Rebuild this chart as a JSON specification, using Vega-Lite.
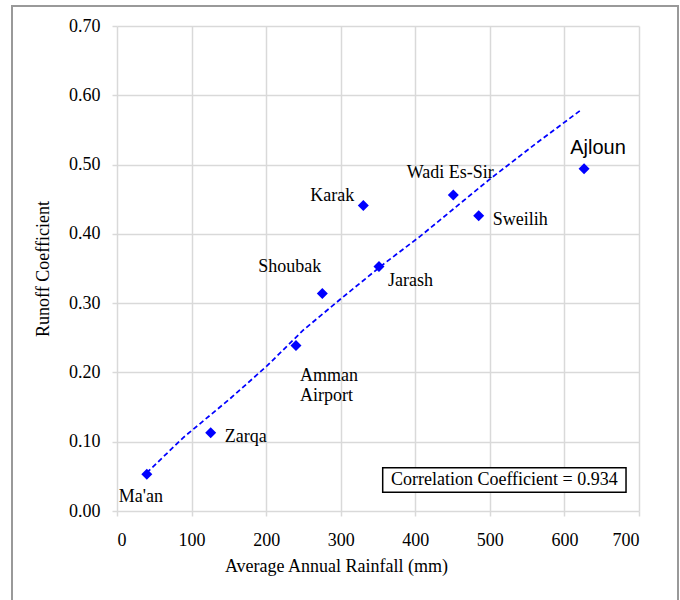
{
  "$schema": "https://vega.github.io/schema/vega-lite/v6.json",
  "width": 522,
  "height": 485,
  "autosize": {"type": "none"},
  "padding": {"left": 117, "top": 26, "right": 41, "bottom": 89},
  "background": "white",
  "config": {
    "view": {"stroke": null},
    "font": "Liberation Serif",
    "axis": {
      "domain": false,
      "gridColor": "#d9d9d9",
      "gridWidth": 1.5,
      "tickColor": "#d9d9d9",
      "tickWidth": 1.5,
      "tickSize": 5,
      "labelFont": "Liberation Serif",
      "labelFontSize": 18,
      "labelColor": "#000000",
      "titleFont": "Liberation Serif",
      "titleFontSize": 18,
      "titleFontWeight": "normal",
      "titleColor": "#000000"
    }
  },
  "datasets": {
    "stations": [
      {"station": "Ma'an", "rainfall": 40, "coef": 0.053},
      {"station": "Zarqa", "rainfall": 125.6, "coef": 0.113},
      {"station": "Amman Airport", "rainfall": 240, "coef": 0.239},
      {"station": "Shoubak", "rainfall": 275.3, "coef": 0.314},
      {"station": "Jarash", "rainfall": 351.3, "coef": 0.353},
      {"station": "Karak", "rainfall": 330.3, "coef": 0.441},
      {"station": "Wadi Es-Sir", "rainfall": 451, "coef": 0.456},
      {"station": "Sweilih", "rainfall": 485, "coef": 0.426},
      {"station": "Ajloun", "rainfall": 626.3, "coef": 0.494}
    ],
    "trend": [
      {"rainfall": 39.8, "coef": 0.055},
      {"rainfall": 88.9, "coef": 0.106},
      {"rainfall": 151.5, "coef": 0.162},
      {"rainfall": 200.7, "coef": 0.209},
      {"rainfall": 249.7, "coef": 0.261},
      {"rainfall": 301, "coef": 0.307},
      {"rainfall": 357, "coef": 0.356},
      {"rainfall": 406, "coef": 0.396},
      {"rainfall": 500, "coef": 0.479},
      {"rainfall": 562.6, "coef": 0.531},
      {"rainfall": 623.7, "coef": 0.580}
    ],
    "frame": [
      {"x1": -140.8, "x2": 752.3, "y1": -0.143, "y2": 0.729}
    ],
    "note": [
      {"x1": 356.3, "x2": 682.6, "y1": 0.027, "y2": 0.0625, "xc": 519.4, "yc": 0.0447, "label": "Correlation Coefficient = 0.934"}
    ]
  },
  "layer": [
    {
      "data": {"name": "frame"},
      "mark": {"type": "rect", "fill": null, "stroke": "#999999", "strokeWidth": 2},
      "encoding": {
        "x": {"field": "x1", "type": "quantitative", "scale": {"domain": [0, 700], "nice": false, "zero": false},
          "axis": {"values": [0, 100, 200, 300, 400, 500, 600, 700], "format": "d", "labelPadding": 15, "title": "Average Annual Rainfall  (mm)", "titlePadding": 8, "titleX": 219}},
        "x2": {"field": "x2"},
        "y": {"field": "y1", "type": "quantitative", "scale": {"domain": [0, 0.7], "nice": false, "zero": false},
          "axis": {"values": [0, 0.1, 0.2, 0.3, 0.4, 0.5, 0.6, 0.7], "format": ".2f", "labelPadding": 12, "title": "Runoff Coefficient", "titlePadding": 16}},
        "y2": {"field": "y2"}
      }
    },
    {
      "data": {"name": "note"},
      "mark": {"type": "rect", "fill": "white", "stroke": "#000000", "strokeWidth": 1.5},
      "encoding": {
        "x": {"field": "x1", "type": "quantitative"},
        "x2": {"field": "x2"},
        "y": {"field": "y1", "type": "quantitative"},
        "y2": {"field": "y2"}
      }
    },
    {
      "data": {"name": "note"},
      "mark": {"type": "text", "fontSize": 18, "font": "Liberation Serif", "color": "#000000", "baseline": "middle", "align": "center"},
      "encoding": {
        "x": {"field": "xc", "type": "quantitative"},
        "y": {"field": "yc", "type": "quantitative"},
        "text": {"field": "label"}
      }
    },
    {
      "data": {"name": "trend"},
      "mark": {"type": "line", "color": "#0000ff", "strokeWidth": 1.75, "strokeDash": [5, 3]},
      "encoding": {
        "x": {"field": "rainfall", "type": "quantitative"},
        "y": {"field": "coef", "type": "quantitative"}
      }
    },
    {
      "data": {"name": "stations"},
      "mark": {"type": "point", "shape": "diamond", "filled": true, "color": "#0000ff", "size": 121, "opacity": 1},
      "encoding": {
        "x": {"field": "rainfall", "type": "quantitative"},
        "y": {"field": "coef", "type": "quantitative"}
      }
    },
    {
      "data": {"name": "stations"},
      "transform": [{"filter": "datum.station === \"Ma'an\""}],
      "mark": {"type": "text", "fontSize": 18, "align": "center", "baseline": "middle", "dx": -6, "dy": 23},
      "encoding": {"x": {"field": "rainfall", "type": "quantitative"}, "y": {"field": "coef", "type": "quantitative"}, "text": {"field": "station"}}
    },
    {
      "data": {"name": "stations"},
      "transform": [{"filter": "datum.station === 'Zarqa' || datum.station === 'Sweilih'"}],
      "mark": {"type": "text", "fontSize": 18, "align": "left", "baseline": "middle", "dx": 14, "dy": 4},
      "encoding": {"x": {"field": "rainfall", "type": "quantitative"}, "y": {"field": "coef", "type": "quantitative"}, "text": {"field": "station"}}
    },
    {
      "data": {"name": "stations"},
      "transform": [{"filter": "datum.station === 'Amman Airport'"}],
      "mark": {"type": "text", "fontSize": 18, "align": "left", "baseline": "middle", "dx": 4, "dy": 31, "lineBreak": " ", "lineHeight": 20},
      "encoding": {"x": {"field": "rainfall", "type": "quantitative"}, "y": {"field": "coef", "type": "quantitative"}, "text": {"field": "station"}}
    },
    {
      "data": {"name": "stations"},
      "transform": [{"filter": "datum.station === 'Shoubak'"}],
      "mark": {"type": "text", "fontSize": 18, "align": "right", "baseline": "middle", "dx": -1, "dy": -26},
      "encoding": {"x": {"field": "rainfall", "type": "quantitative"}, "y": {"field": "coef", "type": "quantitative"}, "text": {"field": "station"}}
    },
    {
      "data": {"name": "stations"},
      "transform": [{"filter": "datum.station === 'Karak'"}],
      "mark": {"type": "text", "fontSize": 18, "align": "right", "baseline": "middle", "dx": -9, "dy": -9},
      "encoding": {"x": {"field": "rainfall", "type": "quantitative"}, "y": {"field": "coef", "type": "quantitative"}, "text": {"field": "station"}}
    },
    {
      "data": {"name": "stations"},
      "transform": [{"filter": "datum.station === 'Wadi Es-Sir'"}],
      "mark": {"type": "text", "fontSize": 18, "align": "center", "baseline": "middle", "dx": -3, "dy": -22},
      "encoding": {"x": {"field": "rainfall", "type": "quantitative"}, "y": {"field": "coef", "type": "quantitative"}, "text": {"field": "station"}}
    },
    {
      "data": {"name": "stations"},
      "transform": [{"filter": "datum.station === 'Jarash'"}],
      "mark": {"type": "text", "fontSize": 18, "align": "left", "baseline": "middle", "dx": 9, "dy": 15},
      "encoding": {"x": {"field": "rainfall", "type": "quantitative"}, "y": {"field": "coef", "type": "quantitative"}, "text": {"field": "station"}}
    },
    {
      "data": {"name": "stations"},
      "transform": [{"filter": "datum.station === 'Ajloun'"}],
      "mark": {"type": "text", "fontSize": 20, "font": "Liberation Sans", "align": "center", "baseline": "middle", "dx": 14, "dy": -21},
      "encoding": {"x": {"field": "rainfall", "type": "quantitative"}, "y": {"field": "coef", "type": "quantitative"}, "text": {"field": "station"}}
    }
  ]
}
